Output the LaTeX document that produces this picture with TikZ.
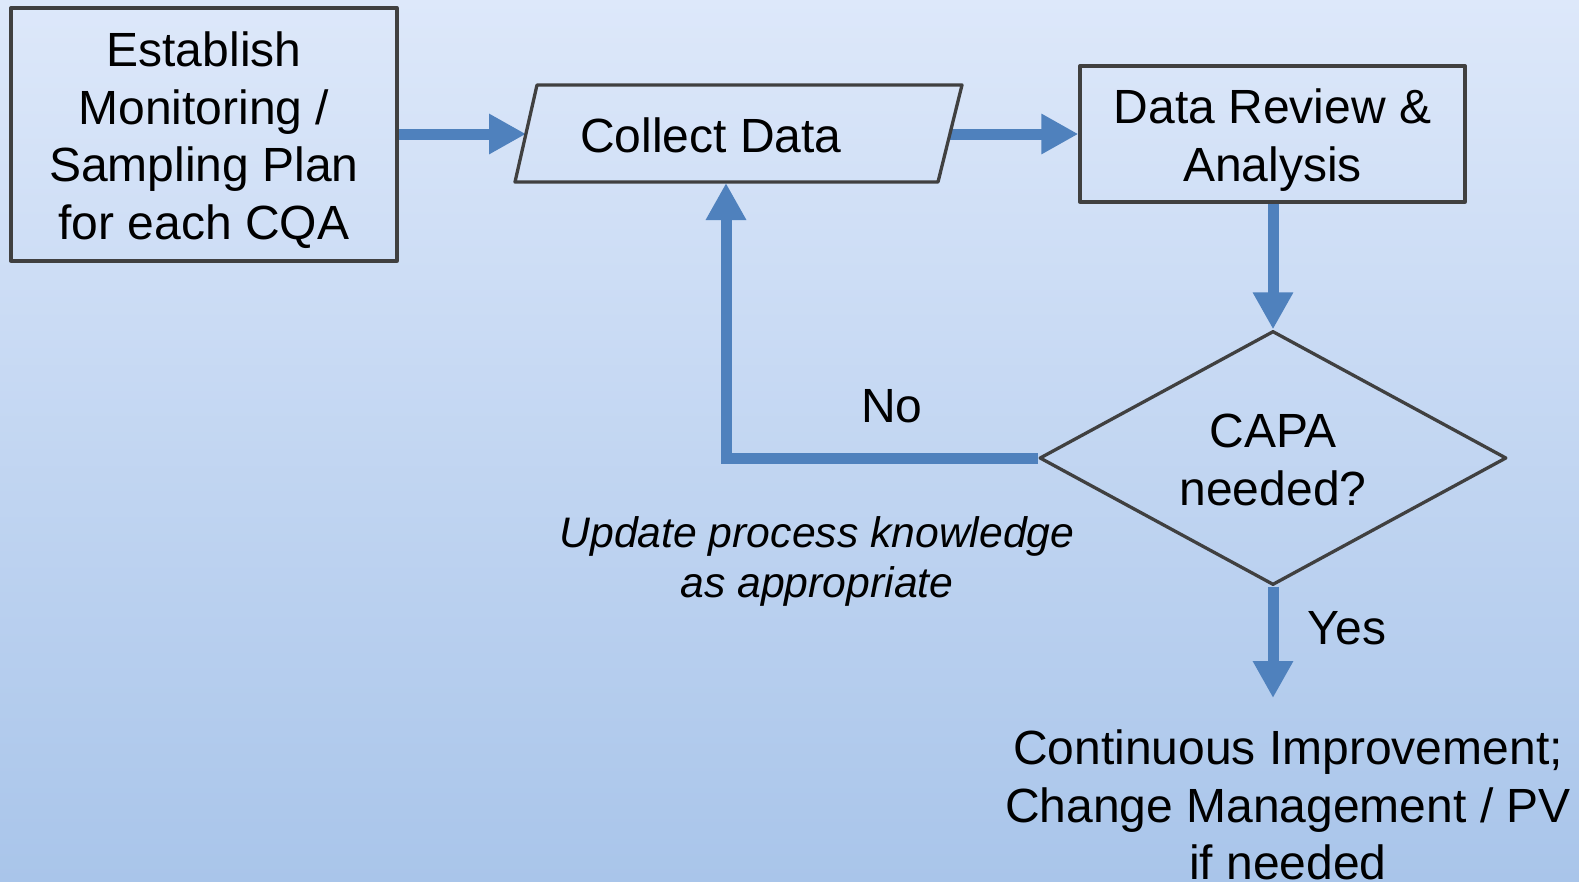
\documentclass[tikz,border=0pt]{standalone}
\usepackage{fontspec}
\setmainfont{Liberation Sans}
\usetikzlibrary{arrows.meta,shapes.geometric}
\pgfdeclarelayer{back}
\pgfdeclarelayer{mid}
\pgfsetlayers{back,mid,main}
\definecolor{bgtop}{HTML}{DDE8FA}
\definecolor{bgbot}{HTML}{A9C5EA}
\definecolor{arr}{HTML}{4F81BD}
\definecolor{edgec}{HTML}{404040}
\newcommand{\bigfnt}{\fontsize{48}{57.5}\selectfont}
\newcommand{\itfnt}{\fontsize{42.7}{50}\selectfont\itshape}
\begin{document}
\begin{tikzpicture}[x=1pt,y=-1pt,
  boxnode/.style={draw=edgec,line width=3.3pt,inner sep=0pt,line join=round},
  txt/.style={inner sep=0pt,align=center,font=\bigfnt},
  flow/.style={draw=arr,line width=11pt,line join=miter,-{Triangle[length=37pt,width=38pt]}}]
\begin{pgfonlayer}{back}
  \shade[top color=bgtop,bottom color=bgbot] (0,0) rectangle (1579,881);
\end{pgfonlayer}
\useasboundingbox (0,0) rectangle (1579,881);

% nodes
\node[boxnode,minimum width=386pt,minimum height=253pt] (est) at (204,134.5) {};
\node[txt] (estt) at (204,140) {Establish\\Monitoring /\\Sampling Plan\\for each CQA};
\draw[draw=edgec,line width=3.3pt,line join=round] (537,85) -- (962,85) -- (938,182) -- (515,182) -- cycle;
\node[txt] (cd) at (711,135) {Collect Data};
\coordinate (cdL) at (526,134);
\coordinate (cdR) at (950,134);
\coordinate (cdB) at (726,183);
\node[boxnode,minimum width=385pt,minimum height=136pt] (dr) at (1272.5,134) {};
\node[txt] (drt) at (1272.5,140) {Data Review \&\\Analysis};
\node[diamond,draw=edgec,line width=3.3pt,inner sep=0pt,minimum width=467pt,minimum height=254pt,line join=round] (capa) at (1273,458) {};
\node[txt] (capat) at (1273,460) {CAPA\\needed?};
\coordinate (yesEnd) at (1273,698);
\coordinate (turn) at (726,458);

% labels
\node[txt] (no) at (892,406) {No};
\node[txt] (yes) at (1347,628) {Yes};
\node[inner sep=0pt,align=center,font=\itfnt] (upd) at (817,561) {Update process knowledge\\as appropriate};
\node[txt] (ci) at (1288,805) {Continuous Improvement;\\Change Management / PV\\if needed};

% connectors
\begin{pgfonlayer}{mid}
  \draw[flow] (est.east |- cdL) -- (cdL);
  \draw[flow] (cdR) -- (dr.west |- cdR);
  \draw[flow] (dr.south -| capa.north) -- (capa.north);
  \draw[flow] (capa.west) -- (turn) -- (cdB);
  \draw[flow] (capa.south) -- (yesEnd);
\end{pgfonlayer}
\end{tikzpicture}
\end{document}
